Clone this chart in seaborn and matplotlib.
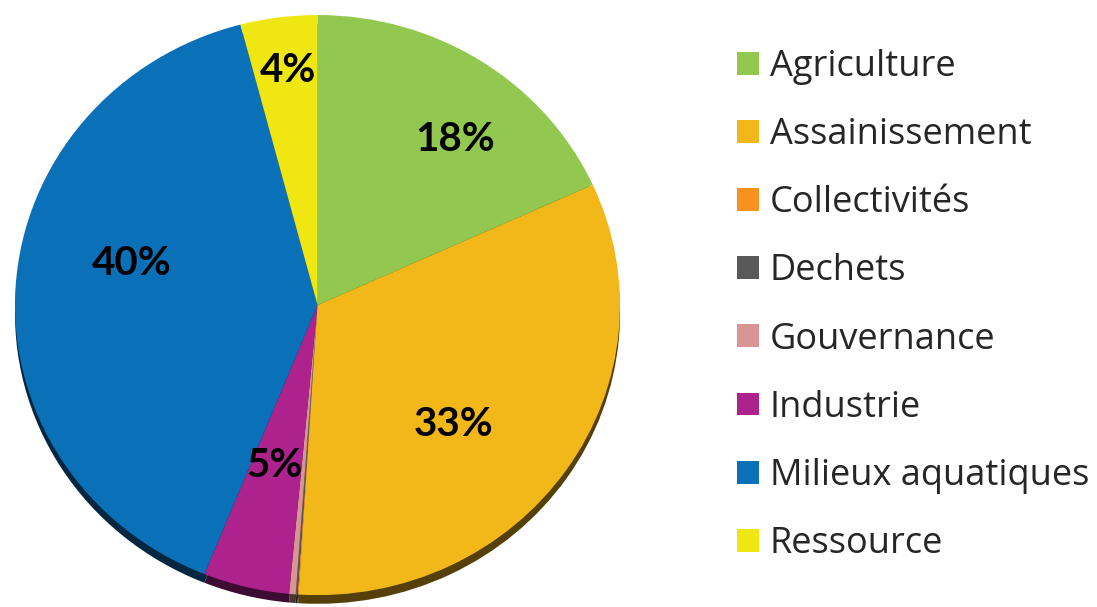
import matplotlib
matplotlib.use("Agg")
import numpy as np
import matplotlib.pyplot as plt
import matplotlib.colors as mcolors
import seaborn as sns

sns.set_theme(style="white")
plt.rcParams["font.family"] = ["Lato", "DejaVu Sans"]

# share of each domain (%)
domains = ["Agriculture", "Assainissement", "Collectivités", "Dechets",
           "Gouvernance", "Industrie", "Milieux aquatiques", "Ressource"]
shares = [18.2, 32.8, 0.05, 0.1, 0.35, 4.6, 39.8, 4.1]
palette = ["#92C850", "#F2B81A", "#F7921E", "#595959",
           "#D99594", "#AE228E", "#0A70B8", "#F0E612"]

# where each percentage label sits: distance from centre, angle nudge (deg)
label_r = [0.73, 0.61, 0.6, 0.6, 0.6, 0.57, 0.63, 0.815]
label_nudge = [-5.8, -7.8, 0, 0, 0, -0.7, -9.7, -0.5]


def shade(c, f=0.35):
    r, g, b = mcolors.to_rgb(c)
    return (r * f, g * f, b * f)


fig = plt.figure(figsize=(10.97, 6.07), dpi=100)
ax = fig.add_axes([15 / 1097, 0, 605 / 1097, 592 / 607])

# darker rim below the pie for the tilted look
ax.pie(shares, colors=[shade(c) for c in palette], startangle=90,
       counterclock=False, center=(0, -0.03),
       wedgeprops=dict(linewidth=0))

wedges, _ = ax.pie(shares, colors=palette, startangle=90, counterclock=False,
                   wedgeprops=dict(linewidth=0))

total = sum(shares)
for w, v, r, dt in zip(wedges, shares, label_r, label_nudge):
    pct = 100 * v / total
    if pct < 1:
        continue
    ang = np.deg2rad((w.theta1 + w.theta2) / 2 + dt)
    ax.text(r * np.cos(ang), r * np.sin(ang), f"{pct:.0f}%",
            ha="center", va="center", fontsize=29, fontweight="bold",
            color="black")

ax.set_aspect("auto")
ax.set_xlim(-1, 1)
ax.set_ylim(-1.041, 1)
ax.axis("off")

fig.legend(wedges, domains, loc="upper left",
           bbox_to_anchor=(737 / 1097, 1 - 49 / 607),
           frameon=False, prop=dict(family="Open Sans", size=26),
           handlelength=0.6, handleheight=0.6,
           labelspacing=0.89, handletextpad=0.3, borderpad=0,
           borderaxespad=0)

fig.savefig("out.png", dpi=100)
